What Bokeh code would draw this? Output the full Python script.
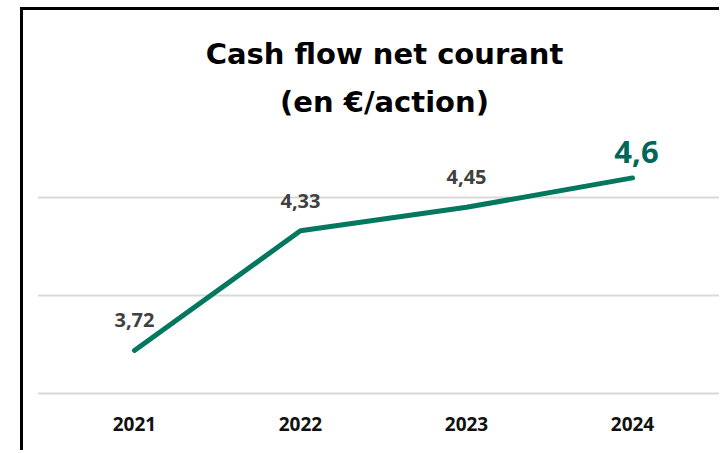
from bokeh.plotting import figure
from bokeh.models import Range1d, FixedTicker, Label
from bokeh.core.properties import value
from bokeh.embed import file_html
from bokeh.resources import INLINE

years = [2021, 2022, 2023, 2024]
values = [3.72, 4.33, 4.45, 4.6]
labels = ["3,72", "4,33", "4,45", "4,6"]
grid_ticks = [3.5, 4.0, 4.5]
title_lines = ["Cash flow net courant", "(en €/action)"]

GREEN = "#03785E"
DARK_GREEN = "#00665A"

p = figure(width=699, height=443, output_backend="svg", toolbar_location=None,
           x_range=Range1d(2020.416, 2024.542), y_range=Range1d(3.49, 5.454),
           min_border_left=14, min_border_right=0, min_border_top=0, min_border_bottom=58)
p.styles = {"border-left": "3px solid #000", "border-top": "3px solid #000",
            "margin-left": "20px", "margin-top": "7px"}
p.outline_line_color = None
p.yaxis.visible = False
p.xgrid.grid_line_color = None
p.ygrid.ticker = FixedTicker(ticks=grid_ticks)
p.ygrid.grid_line_color = "#d9d9d9"
p.ygrid.grid_line_width = 2

p.xaxis.ticker = FixedTicker(ticks=years)
p.xaxis.major_label_overrides = {y: str(y) for y in years}
p.xaxis.axis_line_color = None
p.xaxis.major_tick_line_color = None
p.xaxis.minor_tick_line_color = None
p.xaxis.major_label_standoff = 15
p.xaxis.major_label_text_font = "Open Sans"
p.xaxis.major_label_text_font_style = "bold"
p.xaxis.major_label_text_font_size = "19px"
p.xaxis.major_label_text_color = "#111111"

p.line(years, values, line_color=GREEN, line_width=5, line_cap="round", line_join="round")

p.text(years[:3], values[:3], text=labels[:3], text_align="center", text_baseline="alphabetic",
       y_offset=-30, text_font=value("Open Sans"), text_font_style="bold",
       text_font_size="20px", text_color="#404040")
p.text(years[3:], values[3:], text=labels[3:], text_align="center", text_baseline="alphabetic",
       x_offset=4, y_offset=-26, text_font=value("Open Sans"), text_font_style="bold",
       text_font_size="31px", text_color=DARK_GREEN)

for txt, yv in zip(title_lines, [5.230, 4.985]):
    p.add_layout(Label(x=2022.506, y=yv, text=txt, text_align="center", text_baseline="alphabetic",
                       text_font="DejaVu Sans", text_font_style="bold", text_font_size="29px",
                       text_color="#000000"))

open("out.html", "w").write(file_html(p, INLINE))
